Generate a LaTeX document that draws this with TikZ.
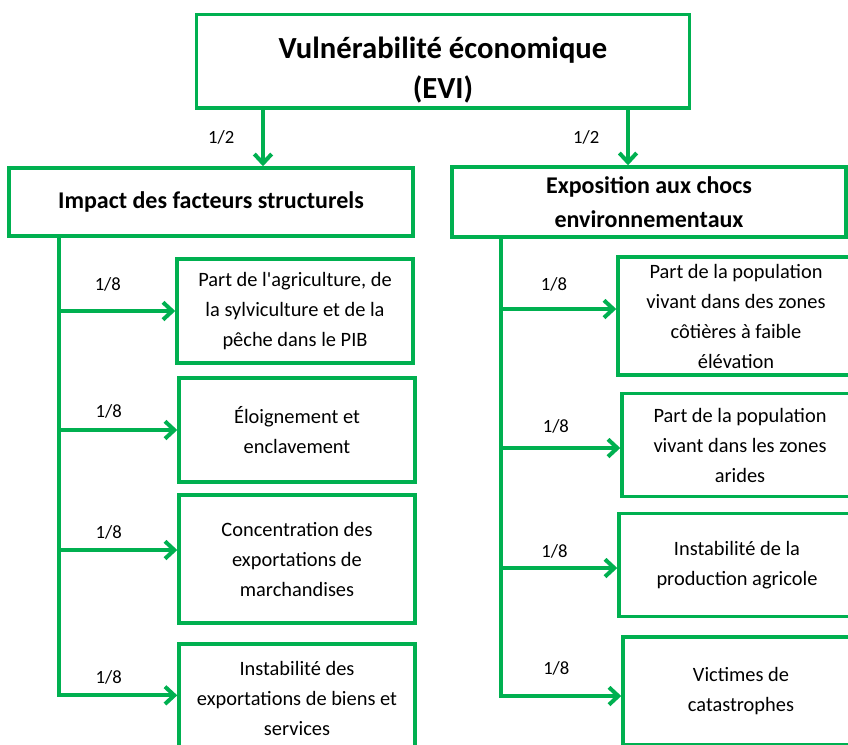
\documentclass[tikz,border=0pt]{standalone}
\usepackage{fontspec}
\setmainfont{Carlito}
\usetikzlibrary{arrows.meta, positioning}
\definecolor{evigreen}{RGB}{0,176,80}

\begin{document}
\begin{tikzpicture}[x=0.75pt, y=-0.75pt]
\tikzset{
  box/.style={draw=evigreen, line width=2.6pt, rectangle, fill=white, align=center, minimum width=177pt, font=\fontsize{15.3}{22.5}\selectfont},
  head/.style={box, font=\bfseries\fontsize{18}{26}\selectfont},
  link/.style={draw=evigreen, line width=3pt, -{Straight Barb[length=7pt, width=13pt]}},
  wt/.style={font=\fontsize{14}{16}\selectfont, inner sep=1pt}
}
\useasboundingbox (0,0) rectangle (848,744);
\clip (0,0) rectangle (848,744);

\node[head, minimum width=369.75pt, minimum height=69.75pt, font=\bfseries\fontsize{23}{30}\selectfont] (evi) at (443,61) {\rule{0pt}{30pt}Vulnérabilité économique\\(EVI)};
\node[head, minimum width=303pt, minimum height=51pt] (isf) at (211,202) {Impact des facteurs structurels};
\node[head, minimum width=295.5pt, minimum height=52.5pt] (ece) at (649,202) {Exposition aux chocs\\environnementaux};

% impact des facteurs structurels
\node[box, minimum height=78pt] (agri) at (295,311) {Part de l\textquotesingle agriculture, de\\la sylviculture et de la\\pêche dans le PIB};
\node[box, minimum height=78pt] (eloi) at (297,430) {Éloignement et\\enclavement};
\node[box, minimum height=96pt] (conc) at (297,559) {Concentration des\\exportations de\\marchandises};
\node[box, minimum height=81pt] (inst) at (297,698) {Instabilité des\\exportations de biens et\\services};

% exposition aux chocs
\node[box, minimum height=88.5pt] (cote) at (736,316) {Part de la population\\vivant dans des zones\\côtières à faible\\élévation};
\node[box, minimum height=77.25pt] (arid) at (740,445) {Part de la population\\vivant dans les zones\\arides};
\node[box, minimum height=77.25pt] (prod) at (737,565) {Instabilité de la\\production agricole};
\node[box, minimum height=81pt] (vict) at (741,691) {Victimes de\\catastrophes};

\coordinate (kL) at (263,0);
\coordinate (kR) at (628,0);
\coordinate (tL) at (59,0);
\coordinate (tR) at (501,0);

\draw[link] (evi.south -| kL) -- node[wt, left=19pt] (hL) {1/2} (isf.north -| kL);
\draw[link] (evi.south -| kR) -- node[wt, left=19pt] (hR) {1/2} (ece.north -| kR);

\draw[link] (isf.south -| tL) |- ([yshift=2pt]inst.west);
\draw[link] (tL |- agri.west) -- node[wt, pos=0.42, above=12pt] (w1) {1/8} (agri.west);
\draw[link] (tL |- eloi.west) -- node[wt, pos=0.42, above=6pt] (w2) {1/8} (eloi.west);
\draw[link] ([yshift=6.75pt]tL |- conc.west) -- node[wt, pos=0.42, above=5.25pt] (w3) {1/8} ([yshift=6.75pt]conc.west);
\path ([yshift=2pt]tL |- inst.west) -- node[wt, pos=0.42, above=6.75pt] (w4) {1/8} ([yshift=2pt]inst.west);

\draw[link] (ece.south -| tR) |- ([yshift=-3.75pt]vict.west);
\draw[link] ([yshift=5.25pt]tR |- cote.west) -- node[wt, pos=0.46, above=10.5pt] (v1) {1/8} ([yshift=5.25pt]cote.west);
\draw[link] ([yshift=-2.25pt]tR |- arid.west) -- node[wt, pos=0.46, above=8.25pt] (v2) {1/8} ([yshift=-2.25pt]arid.west);
\draw[link] ([yshift=-2.25pt]tR |- prod.west) -- node[wt, pos=0.46, above=4.5pt] (v3) {1/8} ([yshift=-2.25pt]prod.west);
\path ([yshift=-3.75pt]tR |- vict.west) -- node[wt, pos=0.46, above=14pt] (v4) {1/8} ([yshift=-3.75pt]vict.west);
\end{tikzpicture}
\end{document}
